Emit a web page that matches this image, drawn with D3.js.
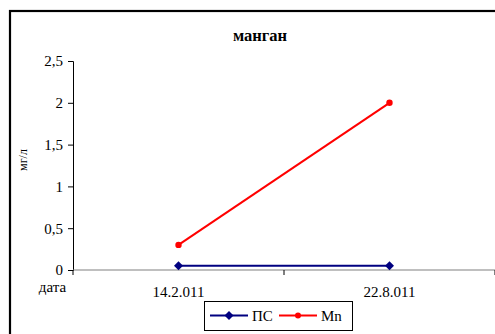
<!DOCTYPE html>
<html><head><meta charset="utf-8">
<script src="https://cdn.jsdelivr.net/npm/d3@7"></script>
<style>body{margin:0;background:#fff}svg{display:block}</style>
</head><body>
<script>
const categories = ["14.2.011", "22.8.011"];
const seriesNames = ["ПС", "Mn"];
const psValues = [0.05, 0.05];
const mnValues = [0.3, 2];
const yTicks = [0, 0.5, 1, 1.5, 2, 2.5];
const colors = ["#000080", "#FF0000"];

const W = 495, H = 334;
const FF = '"Liberation Serif"';
const svg = d3.select("body").append("svg").attr("width", W).attr("height", H);

svg.append("rect").attr("x", 10).attr("y", 11).attr("width", 500).attr("height", 340)
  .attr("fill", "#fff").attr("stroke", "#000").attr("stroke-width", 2.2);

const x0 = 73, x1 = 495, yTop = 61, yBot = 270;
const x = d3.scaleBand().domain(categories).range([x0, x1]);
const y = d3.scaleLinear().domain([0, 2.5]).range([yBot, yTop]);

// y axis
const yAxis = svg.append("g").attr("transform", `translate(${x0},0)`)
  .call(d3.axisLeft(y).tickValues(yTicks).tickSize(5).tickPadding(5)
    .tickFormat(d => String(d).replace(".", ",")));
yAxis.select(".domain").attr("stroke", "#000");
yAxis.selectAll("line").attr("stroke", "#000");
yAxis.selectAll("text").style("font-family", FF).style("font-size", "15px").attr("fill", "#000");

// x axis
const xg = svg.append("g").attr("transform", `translate(0,${yBot})`);
xg.append("line").attr("x1", x0).attr("x2", x1).attr("stroke", "#808080").attr("stroke-width", 1.2);
const bounds = [x0].concat(categories.map(c => x(c) + x.bandwidth()));
xg.selectAll("line.tk").data(bounds).join("line").attr("class", "tk")
  .attr("x1", d => d).attr("x2", d => d).attr("y1", 0).attr("y2", 5).attr("stroke", "#000");
xg.selectAll("text").data(categories).join("text")
  .attr("x", d => x(d) + x.bandwidth() / 2).attr("y", 27)
  .attr("text-anchor", "middle").style("font-family", FF).style("font-size", "15px").text(d => d);

svg.append("text").attr("x", 52.5).attr("y", 292).attr("text-anchor", "middle")
  .style("font-family", FF).style("font-size", "15px").text("дата");
svg.append("text").attr("transform", "translate(27,160) rotate(-90)").attr("text-anchor", "middle")
  .style("font-family", FF).style("font-size", "12px").text("мг/л");
svg.append("text").attr("x", 260).attr("y", 41).attr("text-anchor", "middle")
  .style("font-family", FF).style("font-size", "16.5px").style("font-weight", "bold").text("манган");

const cx = c => x(c) + x.bandwidth() / 2;
const line = d3.line().x((d, i) => cx(categories[i])).y(d => y(d));

// ПС
svg.append("path").datum(psValues).attr("d", line).attr("fill", "none").attr("stroke", colors[0]).attr("stroke-width", 2);
svg.selectAll("path.ps").data(psValues).join("path").attr("class", "ps")
  .attr("d", d3.symbol().type(d3.symbolSquare).size(40))
  .attr("transform", (d, i) => `translate(${cx(categories[i])},${y(d)}) rotate(45)`)
  .attr("fill", colors[0]);
// Mn
svg.append("path").datum(mnValues).attr("d", line).attr("fill", "none").attr("stroke", colors[1]).attr("stroke-width", 2);
svg.selectAll("circle.mn").data(mnValues).join("circle").attr("class", "mn")
  .attr("cx", (d, i) => cx(categories[i])).attr("cy", d => y(d)).attr("r", 3.2).attr("fill", colors[1]);

// legend
const lg = svg.append("g");
lg.append("rect").attr("x", 204.5).attr("y", 301.5).attr("width", 148).attr("height", 29)
  .attr("fill", "#fff").attr("stroke", "#000").attr("stroke-width", 1);
const items = [{n: seriesNames[0], c: colors[0], x: 210, t: "d"}, {n: seriesNames[1], c: colors[1], x: 279, t: "c"}];
items.forEach(it => {
  lg.append("line").attr("x1", it.x).attr("x2", it.x + 38).attr("y1", 315.5).attr("y2", 315.5)
    .attr("stroke", it.c).attr("stroke-width", 2);
  if (it.t === "d") {
    lg.append("path").attr("d", d3.symbol().type(d3.symbolSquare).size(40)())
      .attr("transform", `translate(${it.x + 19},315.5) rotate(45)`).attr("fill", it.c);
  } else {
    lg.append("circle").attr("cx", it.x + 19).attr("cy", 315.5).attr("r", 3).attr("fill", it.c);
  }
  lg.append("text").attr("x", it.x + 42).attr("y", 320.5).style("font-family", FF).style("font-size", "15px").text(it.n);
});
</script>
</body></html>
